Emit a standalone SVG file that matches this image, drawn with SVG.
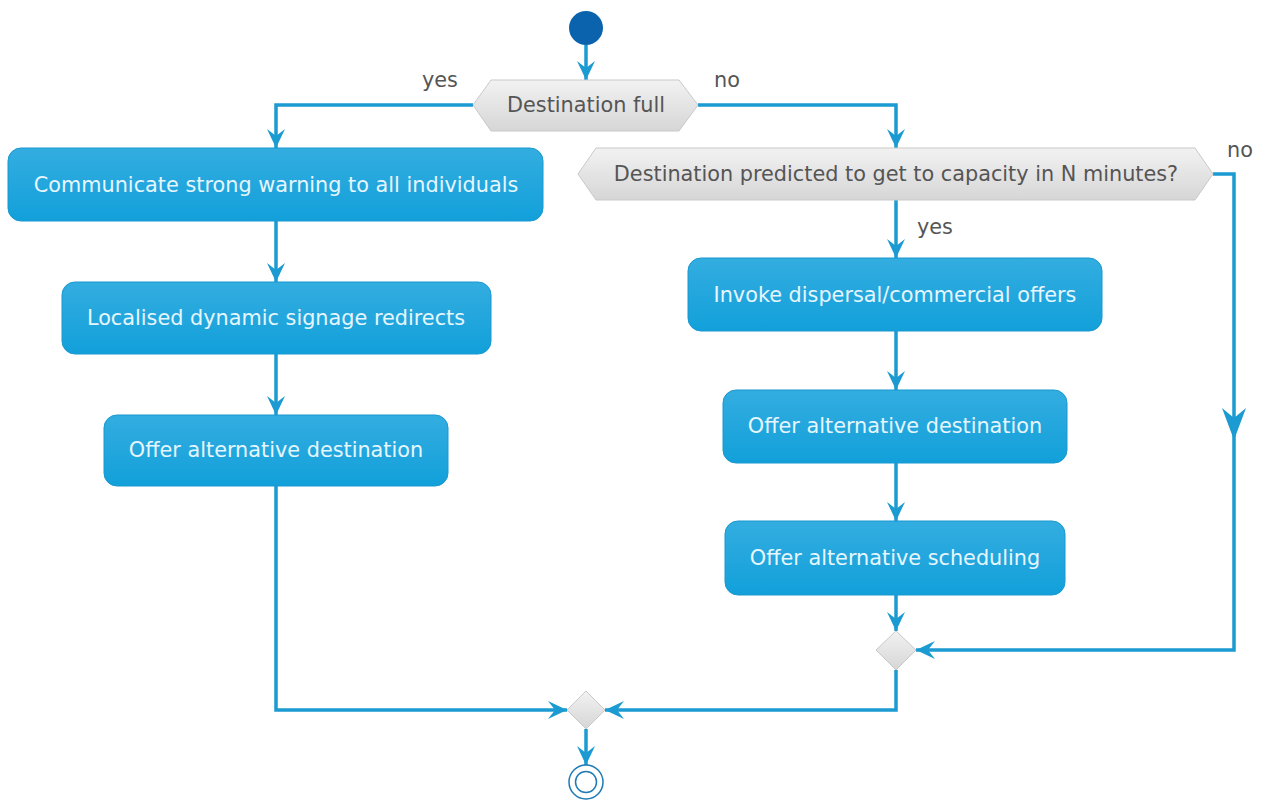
<svg xmlns="http://www.w3.org/2000/svg" width="1263" height="802" viewBox="0 0 1263 802">
<defs>
<linearGradient id="gBox" x1="0" y1="0" x2="0" y2="1"><stop offset="0" stop-color="#33ade0"/><stop offset="1" stop-color="#12a0da"/></linearGradient>
<linearGradient id="gDec" x1="0" y1="0" x2="0" y2="1"><stop offset="0" stop-color="#f2f2f2"/><stop offset="1" stop-color="#d6d6d6"/></linearGradient>
<marker id="ah" viewBox="-20 -10 22 20" refX="0" refY="0" markerWidth="22" markerHeight="20" markerUnits="userSpaceOnUse" orient="auto">
<path d="M0,0 L-19,-9 L-12,0 L-19,9 Z" fill="#1b9bd1"/>
</marker>
</defs>
<style>
.ln{fill:none;stroke:#1b9bd1;stroke-width:3.5}
.box{fill:url(#gBox);stroke:#1898cf;stroke-width:1}
.dec{fill:url(#gDec);stroke:#c9c9c9;stroke-width:1}
.bt{font-family:"DejaVu Sans",sans-serif;font-size:20.8px;fill:#e6f6ff;text-anchor:middle;dominant-baseline:central}
.dt{font-family:"DejaVu Sans",sans-serif;font-size:20.8px;fill:#555555;text-anchor:middle;dominant-baseline:central}
.lb{font-family:"DejaVu Sans",sans-serif;font-size:20.8px;fill:#555555}
</style>
<g id="connectors">
<path class="ln" d="M586,45 L586,80" marker-end="url(#ah)"/>
<path class="ln" d="M473,105 L276,105 L276,148" marker-end="url(#ah)"/>
<path class="ln" d="M698,105 L896,105 L896,148" marker-end="url(#ah)"/>
<path class="ln" d="M276,221 L276,282" marker-end="url(#ah)"/>
<path class="ln" d="M276,354 L276,415" marker-end="url(#ah)"/>
<path class="ln" d="M276,486 L276,710 L567,710" marker-end="url(#ah)"/>
<path class="ln" d="M896,200 L896,258" marker-end="url(#ah)"/>
<path class="ln" d="M896,331 L896,390" marker-end="url(#ah)"/>
<path class="ln" d="M896,463 L896,521" marker-end="url(#ah)"/>
<path class="ln" d="M896,595 L896,631" marker-end="url(#ah)"/>
<path class="ln" d="M1213,174 L1234,174 L1234,650 L916,650" marker-end="url(#ah)"/>
<path d="M1234,440 L1222,408 L1234,418 L1246,408 Z" fill="#1b9bd1"/>
<path class="ln" d="M896,670 L896,710 L605,710" marker-end="url(#ah)"/>
<path class="ln" d="M586,729 L586,765" marker-end="url(#ah)"/>
<text class="lb" x="422" y="87">yes</text>
<text class="lb" x="714" y="87">no</text>
<text class="lb" x="1227" y="157">no</text>
<text class="lb" x="917" y="234">yes</text>
</g>
<g id="start"><circle cx="586" cy="28" r="17" fill="#0b62ad"/></g>
<g id="dec1">
<polygon class="dec" points="473,105 491,80 679,80 698,105 679,131 491,131"/>
<text class="dt" x="586" y="105">Destination full</text>
</g>
<g id="box1">
<rect class="box" x="8" y="148" width="535" height="73" rx="13"/>
<text class="bt" x="276" y="185">Communicate strong warning to all individuals</text>
</g>
<g id="box2">
<rect class="box" x="62" y="282" width="429" height="72" rx="13"/>
<text class="bt" x="276" y="318">Localised dynamic signage redirects</text>
</g>
<g id="box3">
<rect class="box" x="104" y="415" width="344" height="71" rx="13"/>
<text class="bt" x="276" y="450">Offer alternative destination</text>
</g>
<g id="dec2">
<polygon class="dec" points="578,174 596,148 1195,148 1213,174 1195,200 596,200"/>
<text class="dt" x="896" y="174">Destination predicted to get to capacity in N minutes?</text>
</g>
<g id="box4">
<rect class="box" x="688" y="258" width="414" height="73" rx="13"/>
<text class="bt" x="895" y="295">Invoke dispersal/commercial offers</text>
</g>
<g id="box5">
<rect class="box" x="723" y="390" width="344" height="73" rx="13"/>
<text class="bt" x="895" y="426">Offer alternative destination</text>
</g>
<g id="box6">
<rect class="box" x="725" y="521" width="340" height="74" rx="13"/>
<text class="bt" x="895" y="558">Offer alternative scheduling</text>
</g>
<g id="merge2"><polygon class="dec" points="896,631 916,650 896,670 876,650"/></g>
<g id="merge1"><polygon class="dec" points="586,691 605,710 586,729 567,710"/></g>
<g id="end">
<circle cx="586" cy="782" r="17" fill="none" stroke="#1f7bb5" stroke-width="1.5"/>
<circle cx="586" cy="782" r="10.5" fill="none" stroke="#1f7bb5" stroke-width="1.5"/>
</g>
</svg>
